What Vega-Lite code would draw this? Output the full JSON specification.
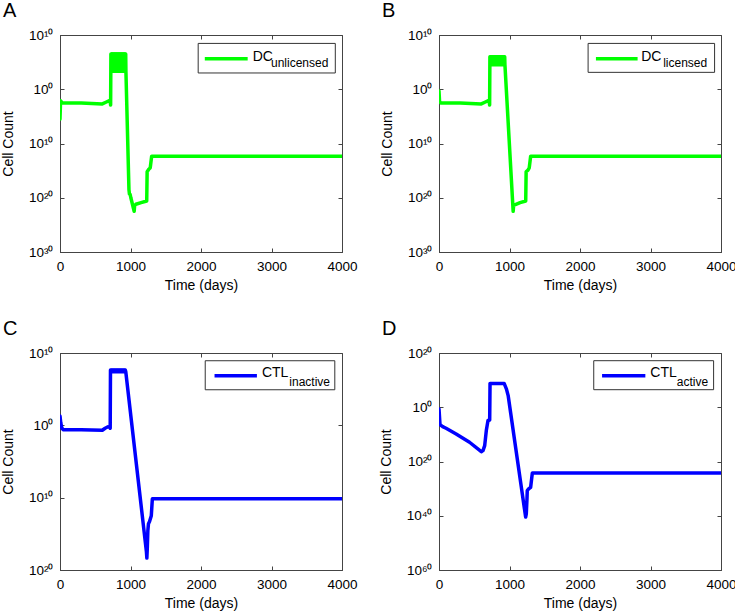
{
  "$schema": "https://vega.github.io/schema/vega-lite/v6.json",
  "padding": {"left": 0, "top": 0, "right": 0, "bottom": 0},
  "background": "white",
  "config": {
    "font": "Liberation Sans",
    "view": {"stroke": "#444", "strokeWidth": 1},
    "axis": {
      "grid": false,
      "domainColor": "#444",
      "tickColor": "#444",
      "tickSize": -4,
      "labelFlush": false,
      "labelColor": "#000",
      "labelFontSize": 13.5,
      "labelPadding": 11,
      "titleFontSize": 14,
      "titleFontWeight": "normal",
      "titleColor": "#000"
    },
    "axisX": {"titlePadding": 6},
    "axisY": {"titlePadding": 13},
    "title": {"fontSize": 20, "fontWeight": "normal", "anchor": "start", "frame": "group", "dx": -57, "offset": 7, "baseline": "alphabetic", "color": "#000"}
  },
  "datasets": {
    "A": [
      {"t": 0, "v": 3.16e-6}, {"t": 8, "v": 7.94e-3}, {"t": 30, "v": 3.16e-3}, {"t": 300, "v": 2.82e-3},
      {"t": 600, "v": 2.0e-3}, {"t": 650, "v": 3.98e-3}, {"t": 700, "v": 7.94e-3}, {"t": 712, "v": 6.31e-3},
      {"t": 718, "v": 1.26e-3},
      {"t": 722, "v": 3.16e6}, {"t": 729, "v": 2.0e3}, {"t": 736, "v": 3.16e6}, {"t": 743, "v": 2.0e3},
      {"t": 750, "v": 3.16e6}, {"t": 757, "v": 2.0e3}, {"t": 764, "v": 3.16e6}, {"t": 771, "v": 2.0e3},
      {"t": 778, "v": 3.16e6}, {"t": 785, "v": 2.0e3}, {"t": 792, "v": 3.16e6}, {"t": 799, "v": 2.0e3},
      {"t": 806, "v": 3.16e6}, {"t": 813, "v": 2.0e3}, {"t": 820, "v": 3.16e6}, {"t": 827, "v": 2.0e3},
      {"t": 834, "v": 3.16e6}, {"t": 841, "v": 2.0e3}, {"t": 848, "v": 3.16e6}, {"t": 855, "v": 2.0e3},
      {"t": 862, "v": 3.16e6}, {"t": 869, "v": 2.0e3}, {"t": 876, "v": 3.16e6}, {"t": 883, "v": 2.0e3},
      {"t": 890, "v": 3.16e6}, {"t": 897, "v": 2.0e3}, {"t": 904, "v": 3.16e6}, {"t": 911, "v": 2.0e3},
      {"t": 918, "v": 3.16e6}, {"t": 925, "v": 2.0e3}, {"t": 932, "v": 3.16e6}, {"t": 935, "v": 2.0e3},
      {"t": 978, "v": 3.16e-19}, {"t": 985, "v": 5.01e-20}, {"t": 995, "v": 3.98e-20}, {"t": 1005, "v": 1e-20},
      {"t": 1052, "v": 3.16e-23}, {"t": 1058, "v": 3.16e-22}, {"t": 1076, "v": 6.31e-22}, {"t": 1150, "v": 1.26e-21},
      {"t": 1230, "v": 2.51e-21}, {"t": 1236, "v": 6.31e-16}, {"t": 1262, "v": 2.0e-15}, {"t": 1280, "v": 3.16e-15},
      {"t": 1300, "v": 4.47e-13}, {"t": 4000, "v": 4.47e-13}
    ],
    "B": [
      {"t": 0, "v": 0.5}, {"t": 8, "v": 5.01e-3}, {"t": 30, "v": 2.82e-3}, {"t": 300, "v": 2.82e-3},
      {"t": 600, "v": 2.0e-3}, {"t": 650, "v": 3.98e-3}, {"t": 700, "v": 7.94e-3}, {"t": 712, "v": 6.31e-3},
      {"t": 718, "v": 1.26e-3},
      {"t": 722, "v": 9.5e5}, {"t": 729, "v": 3.4e4}, {"t": 736, "v": 9.5e5}, {"t": 743, "v": 3.4e4},
      {"t": 750, "v": 9.5e5}, {"t": 757, "v": 3.4e4}, {"t": 764, "v": 9.5e5}, {"t": 771, "v": 3.4e4},
      {"t": 778, "v": 9.5e5}, {"t": 785, "v": 3.4e4}, {"t": 792, "v": 9.5e5}, {"t": 799, "v": 3.4e4},
      {"t": 806, "v": 9.5e5}, {"t": 813, "v": 3.4e4}, {"t": 820, "v": 9.5e5}, {"t": 827, "v": 3.4e4},
      {"t": 834, "v": 9.5e5}, {"t": 841, "v": 3.4e4}, {"t": 848, "v": 9.5e5}, {"t": 855, "v": 3.4e4},
      {"t": 862, "v": 9.5e5}, {"t": 869, "v": 3.4e4}, {"t": 876, "v": 9.5e5}, {"t": 883, "v": 3.4e4},
      {"t": 890, "v": 9.5e5}, {"t": 897, "v": 3.4e4}, {"t": 904, "v": 9.5e5}, {"t": 911, "v": 3.4e4},
      {"t": 918, "v": 9.5e5}, {"t": 925, "v": 3.4e4}, {"t": 932, "v": 9.5e5}, {"t": 935, "v": 3.4e4},
      {"t": 1052, "v": 3.16e-23}, {"t": 1058, "v": 3.98e-22}, {"t": 1150, "v": 1.26e-21}, {"t": 1230, "v": 2.51e-21},
      {"t": 1236, "v": 6.31e-16}, {"t": 1262, "v": 1.26e-15}, {"t": 1280, "v": 3.16e-15}, {"t": 1300, "v": 4.47e-13},
      {"t": 4000, "v": 4.47e-13}
    ],
    "C": [
      {"t": 0, "v": 20}, {"t": 10, "v": 2.51}, {"t": 25, "v": 0.447}, {"t": 45, "v": 0.251},
      {"t": 300, "v": 0.24}, {"t": 600, "v": 0.209}, {"t": 640, "v": 0.398}, {"t": 680, "v": 0.631},
      {"t": 705, "v": 0.501}, {"t": 712, "v": 0.398},
      {"t": 716, "v": 4.57e7}, {"t": 723, "v": 2.57e7}, {"t": 730, "v": 4.57e7}, {"t": 737, "v": 2.57e7},
      {"t": 744, "v": 4.57e7}, {"t": 751, "v": 2.57e7}, {"t": 758, "v": 4.57e7}, {"t": 765, "v": 2.57e7},
      {"t": 772, "v": 4.57e7}, {"t": 779, "v": 2.57e7}, {"t": 786, "v": 4.57e7}, {"t": 793, "v": 2.57e7},
      {"t": 800, "v": 4.57e7}, {"t": 807, "v": 2.57e7}, {"t": 814, "v": 4.57e7}, {"t": 821, "v": 2.57e7},
      {"t": 828, "v": 4.57e7}, {"t": 835, "v": 2.57e7}, {"t": 842, "v": 4.57e7}, {"t": 849, "v": 2.57e7},
      {"t": 856, "v": 4.57e7}, {"t": 863, "v": 2.57e7}, {"t": 870, "v": 4.57e7}, {"t": 877, "v": 2.57e7},
      {"t": 884, "v": 4.57e7}, {"t": 891, "v": 2.57e7}, {"t": 898, "v": 4.57e7}, {"t": 905, "v": 2.57e7},
      {"t": 912, "v": 4.57e7}, {"t": 919, "v": 2.57e7}, {"t": 926, "v": 4.57e7}, {"t": 933, "v": 2.57e7},
      {"t": 1226, "v": 3.16e-18}, {"t": 1232, "v": 4.47e-19}, {"t": 1238, "v": 1e-17}, {"t": 1246, "v": 2.51e-15},
      {"t": 1255, "v": 2.51e-14}, {"t": 1270, "v": 5.01e-14}, {"t": 1295, "v": 3.16e-13}, {"t": 1310, "v": 7.08e-11},
      {"t": 4000, "v": 7.08e-11}
    ],
    "D": [
      {"t": 0, "v": 0.25}, {"t": 14, "v": 3.98e-7}, {"t": 52, "v": 7.08e-8}, {"t": 100, "v": 1.74e-8},
      {"t": 243, "v": 1.41e-10}, {"t": 433, "v": 1.26e-13}, {"t": 600, "v": 3.98e-17}, {"t": 624, "v": 1e-16},
      {"t": 648, "v": 7.08e-15}, {"t": 671, "v": 2.51e-9}, {"t": 695, "v": 1.26e-5}, {"t": 719, "v": 2.0e-5},
      {"t": 724, "v": 6.31e8}, {"t": 924, "v": 6.31e8}, {"t": 957, "v": 5.01e6}, {"t": 981, "v": 2.0e4},
      {"t": 1229, "v": 3.16e-41}, {"t": 1238, "v": 5.01e-40}, {"t": 1248, "v": 1.585e-34}, {"t": 1252, "v": 2.0e-31},
      {"t": 1271, "v": 7.94e-31}, {"t": 1300, "v": 3.16e-30}, {"t": 1324, "v": 6.31e-25}, {"t": 4000, "v": 6.31e-25}
    ]
  },
  "columns": 2,
  "bounds": "flush",
  "spacing": {"row": 101, "column": 97},
  "concat": [
    {
      "title": {"text": "A"},
      "width": 282, "height": 217,
      "layer": [
        {"data": {"name": "A"},
         "mark": {"type": "line", "color": "#00ff00", "strokeWidth": 3.5, "strokeJoin": "round", "strokeCap": "round", "clip": true},
         "encoding": {
           "x": {"field": "t", "type": "quantitative", "scale": {"domain": [0, 4000], "nice": false, "zero": false}, "axis": {"orient": "bottom", "values": [0, 1000, 2000, 3000, 4000], "format": "d", "title": "Time (days)"}},
           "y": {"field": "v", "type": "quantitative", "scale": {"type": "log", "domain": [1e-30, 1e10], "nice": false}, "axis": {"orient": "left", "values": [1e-30, 1e-20, 1e-10, 1, 1e10], "title": "Cell Count", "labelExpr": "'10' + (round(abs(log(datum.value))/LN10/10) == 0 ? '⁰' : substring('⁰¹²³⁴⁵⁶⁷⁸⁹', round(abs(log(datum.value))/LN10/10), round(abs(log(datum.value))/LN10/10) + 1) + '⁰')"}}
         }},
        {"data": {"values": [{}]},
         "mark": {"type": "rect", "fill": "white", "stroke": "#333", "strokeWidth": 1},
         "encoding": {"x": {"datum": 1960, "type": "quantitative", "axis": null}, "x2": {"datum": 3905}, "y": {"datum": 2.82e8, "type": "quantitative", "axis": null}, "y2": {"datum": 1000}}},
        {"data": {"values": [{}]},
         "mark": {"type": "rule", "color": "#00ff00", "strokeWidth": 3.5},
         "encoding": {"x": {"datum": 2054, "type": "quantitative", "axis": null}, "x2": {"datum": 2662}, "y": {"datum": 4.4e5, "type": "quantitative", "axis": null}}},
        {"data": {"values": [{}]},
         "mark": {"type": "text", "text": "DC", "align": "left", "baseline": "alphabetic", "fontSize": 14},
         "encoding": {"x": {"datum": 2733, "type": "quantitative", "axis": null}, "y": {"datum": 1.86e5, "type": "quantitative", "axis": null}}},
        {"data": {"values": [{}]},
         "mark": {"type": "text", "text": "unlicensed", "align": "left", "baseline": "alphabetic", "fontSize": 12},
         "encoding": {"x": {"datum": 2993, "type": "quantitative", "axis": null}, "y": {"datum": 1.48e4, "type": "quantitative", "axis": null}}},
        {"data": {"values": [{}]},
         "mark": {"type": "point", "opacity": 0},
         "encoding": {
           "x": {"datum": 0, "type": "quantitative", "axis": {"orient": "top", "values": [0, 1000, 2000, 3000, 4000], "labels": false, "title": null, "domain": false}},
           "y": {"datum": 1, "type": "quantitative", "axis": {"orient": "right", "values": [1e-30, 1e-20, 1e-10, 1, 1e10], "labels": false, "title": null, "domain": false}}
         }}
      ]
    },
    {
      "title": {"text": "B"},
      "width": 282, "height": 217,
      "layer": [
        {"data": {"name": "B"},
         "mark": {"type": "line", "color": "#00ff00", "strokeWidth": 3.5, "strokeJoin": "round", "strokeCap": "round", "clip": true},
         "encoding": {
           "x": {"field": "t", "type": "quantitative", "scale": {"domain": [0, 4000], "nice": false, "zero": false}, "axis": {"orient": "bottom", "values": [0, 1000, 2000, 3000, 4000], "format": "d", "title": "Time (days)"}},
           "y": {"field": "v", "type": "quantitative", "scale": {"type": "log", "domain": [1e-30, 1e10], "nice": false}, "axis": {"orient": "left", "values": [1e-30, 1e-20, 1e-10, 1, 1e10], "title": "Cell Count", "labelExpr": "'10' + (round(abs(log(datum.value))/LN10/10) == 0 ? '⁰' : substring('⁰¹²³⁴⁵⁶⁷⁸⁹', round(abs(log(datum.value))/LN10/10), round(abs(log(datum.value))/LN10/10) + 1) + '⁰')"}}
         }},
        {"data": {"values": [{}]},
         "mark": {"type": "rect", "fill": "white", "stroke": "#333", "strokeWidth": 1},
         "encoding": {"x": {"datum": 2115, "type": "quantitative", "axis": null}, "x2": {"datum": 3909}, "y": {"datum": 2.82e8, "type": "quantitative", "axis": null}, "y2": {"datum": 1300}}},
        {"data": {"values": [{}]},
         "mark": {"type": "rule", "color": "#00ff00", "strokeWidth": 3.5},
         "encoding": {"x": {"datum": 2226, "type": "quantitative", "axis": null}, "x2": {"datum": 2817}, "y": {"datum": 4.4e5, "type": "quantitative", "axis": null}}},
        {"data": {"values": [{}]},
         "mark": {"type": "text", "text": "DC", "align": "left", "baseline": "alphabetic", "fontSize": 14},
         "encoding": {"x": {"datum": 2868, "type": "quantitative", "axis": null}, "y": {"datum": 1.86e5, "type": "quantitative", "axis": null}}},
        {"data": {"values": [{}]},
         "mark": {"type": "text", "text": "licensed", "align": "left", "baseline": "alphabetic", "fontSize": 12},
         "encoding": {"x": {"datum": 3180, "type": "quantitative", "axis": null}, "y": {"datum": 1.48e4, "type": "quantitative", "axis": null}}},
        {"data": {"values": [{}]},
         "mark": {"type": "point", "opacity": 0},
         "encoding": {
           "x": {"datum": 0, "type": "quantitative", "axis": {"orient": "top", "values": [0, 1000, 2000, 3000, 4000], "labels": false, "title": null, "domain": false}},
           "y": {"datum": 1, "type": "quantitative", "axis": {"orient": "right", "values": [1e-30, 1e-20, 1e-10, 1, 1e10], "labels": false, "title": null, "domain": false}}
         }}
      ]
    },
    {
      "title": {"text": "C"},
      "width": 282, "height": 217,
      "layer": [
        {"data": {"name": "C"},
         "mark": {"type": "line", "color": "#0000ff", "strokeWidth": 3.5, "strokeJoin": "round", "strokeCap": "round", "clip": true},
         "encoding": {
           "x": {"field": "t", "type": "quantitative", "scale": {"domain": [0, 4000], "nice": false, "zero": false}, "axis": {"orient": "bottom", "values": [0, 1000, 2000, 3000, 4000], "format": "d", "title": "Time (days)"}},
           "y": {"field": "v", "type": "quantitative", "scale": {"type": "log", "domain": [1e-20, 1e10], "nice": false}, "axis": {"orient": "left", "values": [1e-20, 1e-10, 1, 1e10], "title": "Cell Count", "labelExpr": "'10' + (round(abs(log(datum.value))/LN10/10) == 0 ? '⁰' : substring('⁰¹²³⁴⁵⁶⁷⁸⁹', round(abs(log(datum.value))/LN10/10), round(abs(log(datum.value))/LN10/10) + 1) + '⁰')"}}
         }},
        {"data": {"values": [{}]},
         "mark": {"type": "rect", "fill": "white", "stroke": "#333", "strokeWidth": 1},
         "encoding": {"x": {"datum": 2060, "type": "quantitative", "axis": null}, "x2": {"datum": 3898}, "y": {"datum": 8.5e8, "type": "quantitative", "axis": null}, "y2": {"datum": 8.3e4}}},
        {"data": {"values": [{}]},
         "mark": {"type": "rule", "color": "#0000ff", "strokeWidth": 3.5},
         "encoding": {"x": {"datum": 2192, "type": "quantitative", "axis": null}, "x2": {"datum": 2793}, "y": {"datum": 7.2e6, "type": "quantitative", "axis": null}}},
        {"data": {"values": [{}]},
         "mark": {"type": "text", "text": "CTL", "align": "left", "baseline": "alphabetic", "fontSize": 14},
         "encoding": {"x": {"datum": 2864, "type": "quantitative", "axis": null}, "y": {"datum": 4.2e6, "type": "quantitative", "axis": null}}},
        {"data": {"values": [{}]},
         "mark": {"type": "text", "text": "inactive", "align": "left", "baseline": "alphabetic", "fontSize": 12},
         "encoding": {"x": {"datum": 3253, "type": "quantitative", "axis": null}, "y": {"datum": 2.95e5, "type": "quantitative", "axis": null}}},
        {"data": {"values": [{}]},
         "mark": {"type": "point", "opacity": 0},
         "encoding": {
           "x": {"datum": 0, "type": "quantitative", "axis": {"orient": "top", "values": [0, 1000, 2000, 3000, 4000], "labels": false, "title": null, "domain": false}},
           "y": {"datum": 1, "type": "quantitative", "axis": {"orient": "right", "values": [1e-20, 1e-10, 1, 1e10], "labels": false, "title": null, "domain": false}}
         }}
      ]
    },
    {
      "title": {"text": "D"},
      "width": 282, "height": 217,
      "layer": [
        {"data": {"name": "D"},
         "mark": {"type": "line", "color": "#0000ff", "strokeWidth": 3.5, "strokeJoin": "round", "strokeCap": "round", "clip": true},
         "encoding": {
           "x": {"field": "t", "type": "quantitative", "scale": {"domain": [0, 4000], "nice": false, "zero": false}, "axis": {"orient": "bottom", "values": [0, 1000, 2000, 3000, 4000], "format": "d", "title": "Time (days)"}},
           "y": {"field": "v", "type": "quantitative", "scale": {"type": "log", "domain": [1e-60, 1e20], "nice": false}, "axis": {"orient": "left", "values": [1e-60, 1e-40, 1e-20, 1, 1e20], "title": "Cell Count", "labelExpr": "'10' + (round(abs(log(datum.value))/LN10/10) == 0 ? '⁰' : substring('⁰¹²³⁴⁵⁶⁷⁸⁹', round(abs(log(datum.value))/LN10/10), round(abs(log(datum.value))/LN10/10) + 1) + '⁰')"}}
         }},
        {"data": {"values": [{}]},
         "mark": {"type": "rect", "fill": "white", "stroke": "#333", "strokeWidth": 1},
         "encoding": {"x": {"datum": 2195, "type": "quantitative", "axis": null}, "x2": {"datum": 3895}, "y": {"datum": 1.45e17, "type": "quantitative", "axis": null}, "y2": {"datum": 2.95e6}}},
        {"data": {"values": [{}]},
         "mark": {"type": "rule", "color": "#0000ff", "strokeWidth": 3.5},
         "encoding": {"x": {"datum": 2313, "type": "quantitative", "axis": null}, "x2": {"datum": 2927}, "y": {"datum": 4.27e11, "type": "quantitative", "axis": null}}},
        {"data": {"values": [{}]},
         "mark": {"type": "text", "text": "CTL", "align": "left", "baseline": "alphabetic", "fontSize": 14},
         "encoding": {"x": {"datum": 2997, "type": "quantitative", "axis": null}, "y": {"datum": 1e11, "type": "quantitative", "axis": null}}},
        {"data": {"values": [{}]},
         "mark": {"type": "text", "text": "active", "align": "left", "baseline": "alphabetic", "fontSize": 12},
         "encoding": {"x": {"datum": 3374, "type": "quantitative", "axis": null}, "y": {"datum": 8.7e7, "type": "quantitative", "axis": null}}},
        {"data": {"values": [{}]},
         "mark": {"type": "point", "opacity": 0},
         "encoding": {
           "x": {"datum": 0, "type": "quantitative", "axis": {"orient": "top", "values": [0, 1000, 2000, 3000, 4000], "labels": false, "title": null, "domain": false}},
           "y": {"datum": 1, "type": "quantitative", "axis": {"orient": "right", "values": [1e-60, 1e-40, 1e-20, 1, 1e20], "labels": false, "title": null, "domain": false}}
         }}
      ]
    }
  ]
}
